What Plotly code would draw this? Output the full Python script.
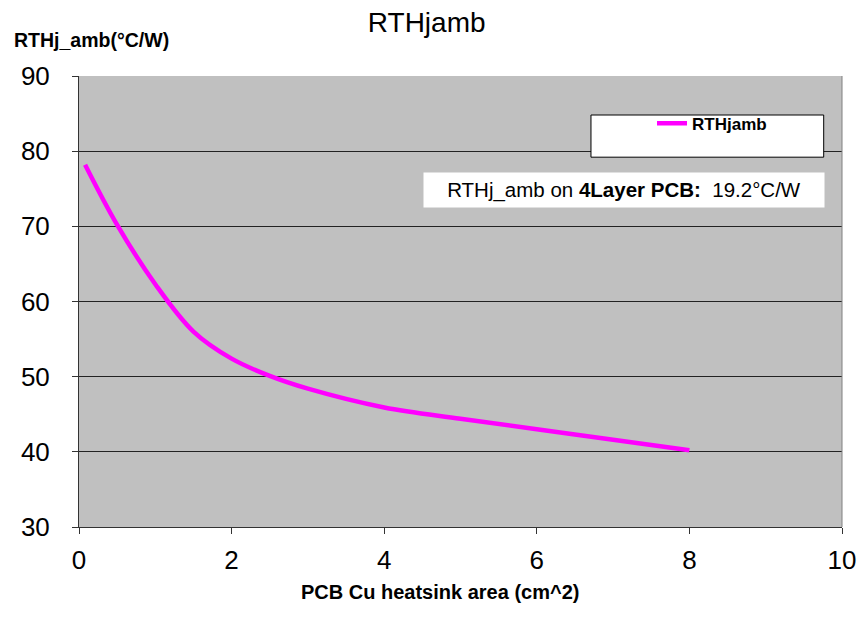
import plotly.graph_objects as go

# Thermal resistance vs PCB copper area
area_cm2 = [0.08, 0.5, 1.0, 1.5, 2.0, 2.5, 3.0, 4.0, 5.0, 6.0, 7.0, 8.0]
rth_jamb = [78.2, 70.2, 62.3, 56.0, 52.4, 50.1, 48.4, 45.9, 44.4, 43.0, 41.6, 40.2]

x_ticks = [0, 2, 4, 6, 8, 10]
y_ticks = [30, 40, 50, 60, 70, 80, 90]

FONT = "Liberation Sans, Arial, sans-serif"

fig = go.Figure()
fig.add_trace(go.Scatter(
    x=area_cm2, y=rth_jamb, mode="lines", name="<b>RTHjamb</b>",
    line=dict(color="#FF00FF", width=4.5, shape="spline", smoothing=1.0),
))

# legend frame
fig.add_shape(type="rect", xref="paper", yref="paper",
              x0=0.671, x1=0.976, y0=0.820, y1=0.9135,
              fillcolor="white", line=dict(color="black", width=1), layer="above")

fig.add_annotation(
    xref="paper", yref="paper", x=0.978, y=0.787, xanchor="right", yanchor="top",
    text="RTHj_amb on <b>4Layer PCB:</b>  19.2°C/W",
    showarrow=False, bgcolor="white", width=398, height=32,
    font=dict(size=20.5, color="black", family=FONT),
)

fig.update_layout(
    width=862, height=630,
    margin=dict(l=79, r=20, t=76, b=103),
    paper_bgcolor="white", plot_bgcolor="#C0C0C0",
    font=dict(family=FONT, color="black"),
    title=dict(text="RTHjamb", x=0.495, xanchor="center", y=0.965, yanchor="middle",
               font=dict(size=28, family=FONT)),
    showlegend=True,
    legend=dict(x=0.751, y=0.894, xanchor="left", yanchor="middle",
                bgcolor="rgba(0,0,0,0)", font=dict(size=17, family=FONT),
                itemwidth=30),
)
fig.add_annotation(xref="paper", yref="paper", x=-0.088, y=1.08, xanchor="left",
                   yanchor="middle", text="<b>RTHj_amb(°C/W)</b>", showarrow=False,
                   font=dict(size=19.5, family=FONT))
fig.add_annotation(xref="paper", yref="paper", x=0.4725, y=-0.144, xanchor="center",
                   yanchor="middle", text="<b>PCB Cu heatsink area (cm^2)</b>",
                   showarrow=False, font=dict(size=20, family=FONT))

fig.update_xaxes(range=[0, 10], tickvals=x_ticks, showgrid=False, zeroline=False,
                 ticks="outside", ticklen=6, tickcolor="#333", showline=True,
                 linecolor="#333", mirror=False, tickfont=dict(size=26),
                 ticklabelstandoff=4, automargin=False)
fig.update_yaxes(range=[30, 90], tickvals=y_ticks, showgrid=True, gridcolor="#222",
                 gridwidth=1, zeroline=False, ticks="outside", ticklen=6,
                 tickcolor="#333", showline=True, linecolor="#333",
                 tickfont=dict(size=26), ticklabelstandoff=17, automargin=False)
# right-hand frame edge
fig.add_shape(type="line", xref="paper", yref="paper", x0=1, x1=1, y0=0, y1=1,
              line=dict(color="#808080", width=1))

fig.write_html("out.html", config={"displayModeBar": False},
               post_script="document.body.style.margin='0';")
